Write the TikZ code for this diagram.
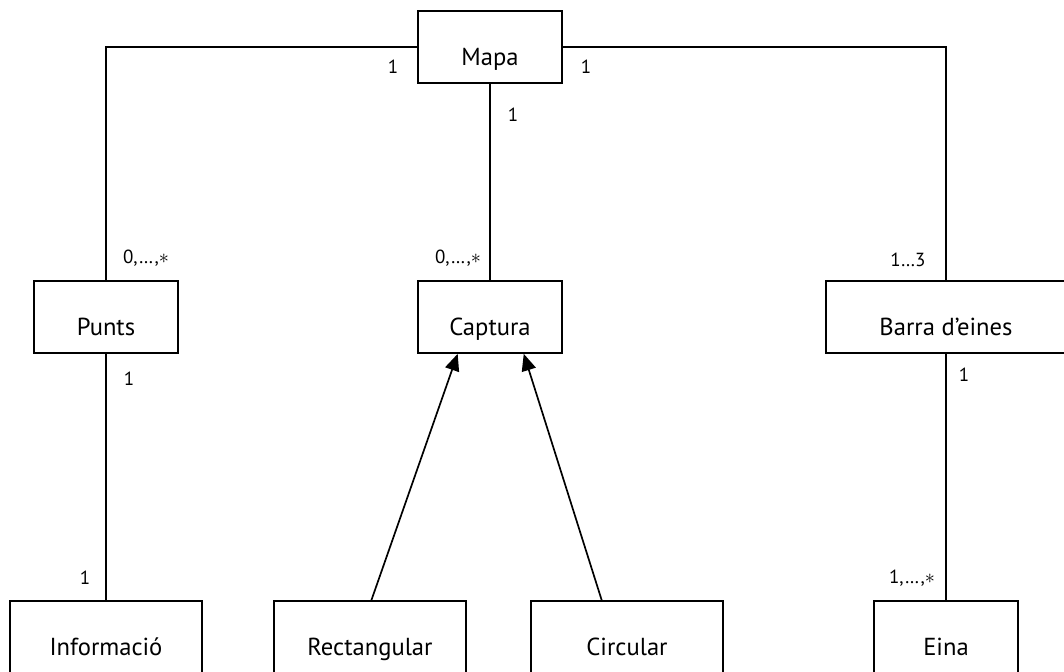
\documentclass[tikz,border=0pt]{standalone}
\usepackage{fontspec}
\setmainfont{PT Sans}
\usetikzlibrary{arrows.meta}

\begin{document}
\begin{tikzpicture}[x=0.025cm, y=-0.025cm, line width=1.2pt,
    classe/.style={draw, rectangle, minimum width=4.8cm, minimum height=1.8cm, text height=0.9cm, text depth=0pt, font=\fontsize{17.5}{20}\selectfont},
    mult/.style={font=\fontsize{13.5}{16}\selectfont, inner sep=0pt},
    hereta/.style={-{Triangle[length=0.42cm,width=0.36cm]}}]
    \useasboundingbox (0,0) rectangle (1064,671);

    \node[classe, minimum width=3.6cm] (mapa) at (490,47) {Mapa};
    \node[classe, minimum width=3.6cm] (punts) at (106,317) {Punts};
    \node[classe, minimum width=3.6cm] (captura) at (490,317) {Captura};
    \node[classe, minimum width=6cm] (barra) at (946,317) {Barra d'eines};

    \node[classe] (info) at (106,637) {Informació};
    \node[classe] (rect) at (370,637) {Rectangular};
    \node[classe] (circ) at (627,637) {Circular};
    \node[classe, minimum width=3.6cm] (eina) at (946,637) {Eina};

    \draw (mapa.west) -| (punts.north);
    \draw (mapa.east) -| (barra.north);
    \draw (mapa.south) -- (captura.north);
    \draw (punts.south) -- (info.north);
    \draw (barra.south) -- (eina.north);

    \draw[hereta] ([xshift=1pt]rect.north) -- ([xshift=-23]captura.south);
    \draw[hereta] ([xshift=-18]circ.north) -- ([xshift=24]captura.south);

    % multiplicitats
    \node[mult] (m1) at (393,67) {1};
    \node[mult] (m2) at (586,67) {1};
    \node[mult] (m3) at (513,115) {1};
    \node[mult] (m4) at (146,258) {0,…,$\ast$};
    \node[mult] (m5) at (458,258) {0,…,$\ast$};
    \node[mult] (m6) at (908,260) {1…3};
    \node[mult] (m7) at (129,379) {1};
    \node[mult] (m8) at (85,578) {1};
    \node[mult] (m9) at (964,375) {1};
    \node[mult] (m10) at (912,578) {1,…,$\ast$};
\end{tikzpicture}
\end{document}
